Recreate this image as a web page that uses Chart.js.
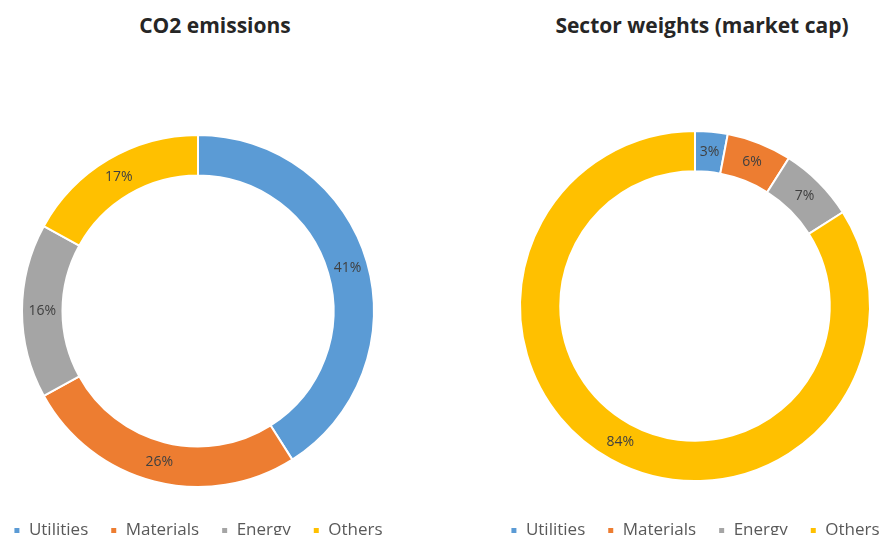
<!DOCTYPE html>
<html>
<head>
<meta charset="utf-8">
<script src="https://cdn.jsdelivr.net/npm/chart.js@4.4.1/dist/chart.umd.min.js"></script>
<style>
  html, body { margin: 0; padding: 0; background: #fff; overflow: hidden; }
  body { width: 883px; height: 535px; position: relative; }
  .title { position: absolute; top: 11px; font: bold 21px "Open Sans", sans-serif; color: #262626; text-align: center; width: 340px; }
  .box { position: absolute; top: 0; width: 420px; height: 570px; }
</style>
</head>
<body>
<div class="title" style="left:45px">CO2 emissions</div>
<div class="title" style="left:532px">Sector weights (market cap)</div>
<div class="box" style="left:-12px"><canvas id="co2"></canvas></div>
<div class="box" style="left:485px"><canvas id="weights"></canvas></div>
<script>
const sectors = ['Utilities', 'Materials', 'Energy', 'Others'];
const co2Share = [41, 26, 16, 17];
const capShare = [3, 6, 7, 84];
const sectorColors = ['#5B9BD5', '#ED7D31', '#A5A5A5', '#FFC000'];

// percent labels in the middle of each ring slice
const sliceLabels = {
  id: 'sliceLabels',
  afterDatasetsDraw(chart) {
    const ctx = chart.ctx;
    const meta = chart.getDatasetMeta(0);
    ctx.save();
    ctx.font = '14px "Open Sans", sans-serif';
    ctx.fillStyle = '#404040';
    ctx.textAlign = 'center';
    ctx.textBaseline = 'middle';
    meta.data.forEach((arc, i) => {
      const p = arc.tooltipPosition();
      ctx.fillText(chart.data.datasets[0].data[i] + '%', p.x, p.y);
    });
    ctx.restore();
  }
};

function ring(id, values, top, radius) {
  const el = document.getElementById(id);
  el.width = 420;
  el.height = 570;
  return new Chart(el, {
    type: 'doughnut',
    data: {
      labels: sectors,
      datasets: [{ data: values, backgroundColor: sectorColors, borderColor: '#fff', borderWidth: 2 }]
    },
    options: {
      responsive: false,
      animation: false,
      cutout: '77%',
      radius: radius,
      layout: { padding: { top: top, left: 0, right: 0, bottom: 21 } },
      plugins: {
        tooltip: { enabled: false },
        legend: {
          position: 'bottom',
          labels: {
            boxWidth: 7, boxHeight: 7, padding: 22,
            color: '#595959',
            font: { family: '"Open Sans", sans-serif', size: 17 }
          }
        }
      }
    },
    plugins: [sliceLabels]
  });
}

ring('co2', co2Share, 122, 176);
ring('weights', capShare, 112, 175);
</script>
</body>
</html>
